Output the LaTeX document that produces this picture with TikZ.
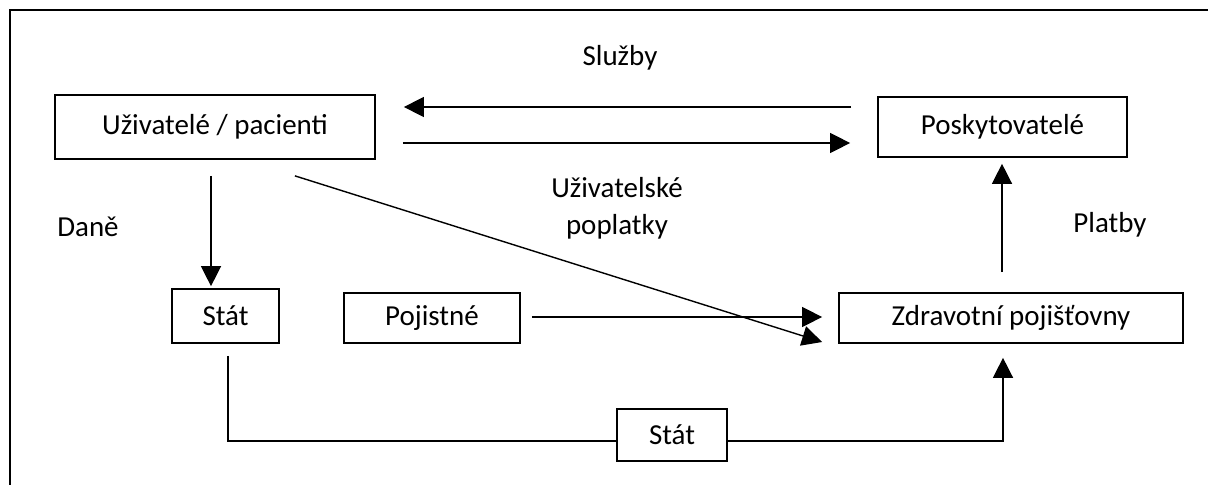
\documentclass[tikz,border=0pt]{standalone}
\usepackage{fontspec}
\setmainfont{Carlito}
\usetikzlibrary{arrows.meta}

\begin{document}
\begin{tikzpicture}[
    x=0.025cm, y=-0.025cm,
    every node/.style={font=\fontsize{20.6}{26.3}\selectfont},
    box/.style={draw, line width=1.2pt, inner sep=0pt, align=center},
    flowlabel/.style={align=center},
    arrow/.style={-{Triangle[length=0.5cm, width=0.5cm]}, line width=1pt},
    link/.style={line width=1pt}
]
\useasboundingbox (0,0) rectangle (1208,485);
\draw[line width=1.2pt] (1208,10) -- (10,10) -- (10,485);

\node[box, minimum width=8cm, minimum height=1.6cm] (users) at (215,127) {U\v{z}ivatel\'e / pacienti};
\node[box, minimum width=6.225cm, minimum height=1.5cm] (prov) at (1002.5,127) {Poskytovatel\'e};
\node[box, minimum width=2.675cm, minimum height=1.35cm] (statL) at (225.5,316) {St\'at};
\node[box, minimum width=4.4cm, minimum height=1.25cm] (poj) at (432,318) {Pojistn\'e};
\node[box, minimum width=8.6cm, minimum height=1.25cm] (zdrav) at (1011,318) {Zdravotn\'i poji\v{s}\v{t}ovny};
\node[box, minimum width=2.75cm, minimum height=1.3cm] (statB) at (672,435) {St\'at};

\node[flowlabel] (sluzby) at (620,58) {Slu\v{z}by};
\node[flowlabel] (poplatky) at (617,208) {U\v{z}ivatelsk\'e\\poplatky};
\node[flowlabel] (dane) at (88,227) {Dan\v{e}};
\node[flowlabel] (platby) at (1110,225) {Platby};

\draw[arrow] ([shift={(-26,-20)}]prov.west) -- ([shift={(28,-20)}]users.east);
\draw[arrow] ([shift={(27,16)}]users.east) -- ([shift={(-27,16)}]prov.west);
\draw[arrow] ([shift={(-4,16)}]users.south) -- ([shift={(-14.5,-2)}]statL.north);
\draw[arrow] ([shift={(-81,16)}]users.south east) -- ([shift={(-16,24)}]zdrav.west);
\draw[arrow] ([shift={(11,-1)}]poj.east) -- ([shift={(-16,-1)}]zdrav.west);
\draw[arrow] ([shift={(-9,-20)}]zdrav.north) -- ([shift={(-0.5,6)}]prov.south);
\draw[link] ([shift={(2.5,12)}]statL.south) |- ([shift={(0,6)}]statB.west);
\draw[arrow] ([shift={(0,6)}]statB.east) -| ([shift={(-8,14)}]zdrav.south);
\end{tikzpicture}
\end{document}
